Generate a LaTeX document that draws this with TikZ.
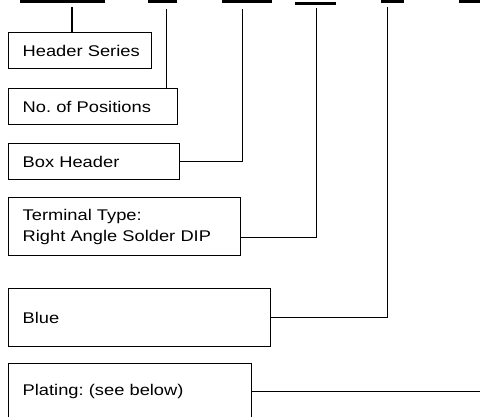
\documentclass[tikz,border=0pt]{standalone}
\usepackage{fontspec}
\setmainfont{Liberation Sans}[FakeStretch=1.18]
\usetikzlibrary{calc,positioning}

\tikzset{
    partbox/.style={draw, line width=1pt, anchor=north west, inner xsep=14.2pt,
        inner ysep=0pt, align=left, font=\fontsize{15.5}{21}\selectfont\frenchspacing},
    slot/.style={line width=3pt},
    lead/.style={line width=1.3pt}
}

\begin{document}
\begin{tikzpicture}[x=1pt, y=-1pt]
    \useasboundingbox (0,0) rectangle (480,416);
    \clip (0,0) rectangle (480,416);
    % blanks of the part number
    \draw[slot] (20,1.5) -- (105,1.5);
    \draw[slot] (148,1.5) -- (177,1.5);
    \draw[slot] (222,1.5) -- (272,1.5);
    \draw[slot] (295,3.5) -- (336,3.5);
    \draw[slot] (381,1.5) -- (404,1.5);
    \draw[slot] (459,1.5) -- (480,1.5);
    \coordinate (s1) at (72,7);
    \coordinate (s2) at (166.7,9);
    \coordinate (s3) at (242.7,9);
    \coordinate (s4) at (316.7,8);
    \coordinate (s5) at (387.7,7);
    \coordinate (s6) at (480,7);

    \node[partbox, text width=114.6pt, minimum height=36pt] (series) at (8,32) {\mbox{Header Series}};
    \node[partbox, text width=140.6pt, minimum height=36pt] (positions) at (8,88) {No. of Positions};
    \node[partbox, text width=142.6pt, minimum height=36pt] (boxhdr) at (8,143) {Box Header};
    \node[partbox, text width=203.6pt, minimum height=58pt] (term) at (8,197) {Terminal Type:\\Right Angle Solder DIP};
    \node[partbox, text width=233.6pt, minimum height=58pt] (color) at (8,288) {Blue};
    \node[partbox, text width=214.6pt, minimum height=56pt] (plating) at (8,363) {Plating: (see below)};

    \draw[lead] (s1) -- (s1 |- series.north);
    \draw[lead] (s2) -- (s2 |- positions.north);
    \draw[lead] (s3) |- (boxhdr.east);
    \draw[lead] (s4) |- ([yshift=-11pt]term.east);
    \draw[lead] (s5) |- (color.east);
    \draw[lead] (plating.east) -- (plating.east -| s6);
\end{tikzpicture}
\end{document}
